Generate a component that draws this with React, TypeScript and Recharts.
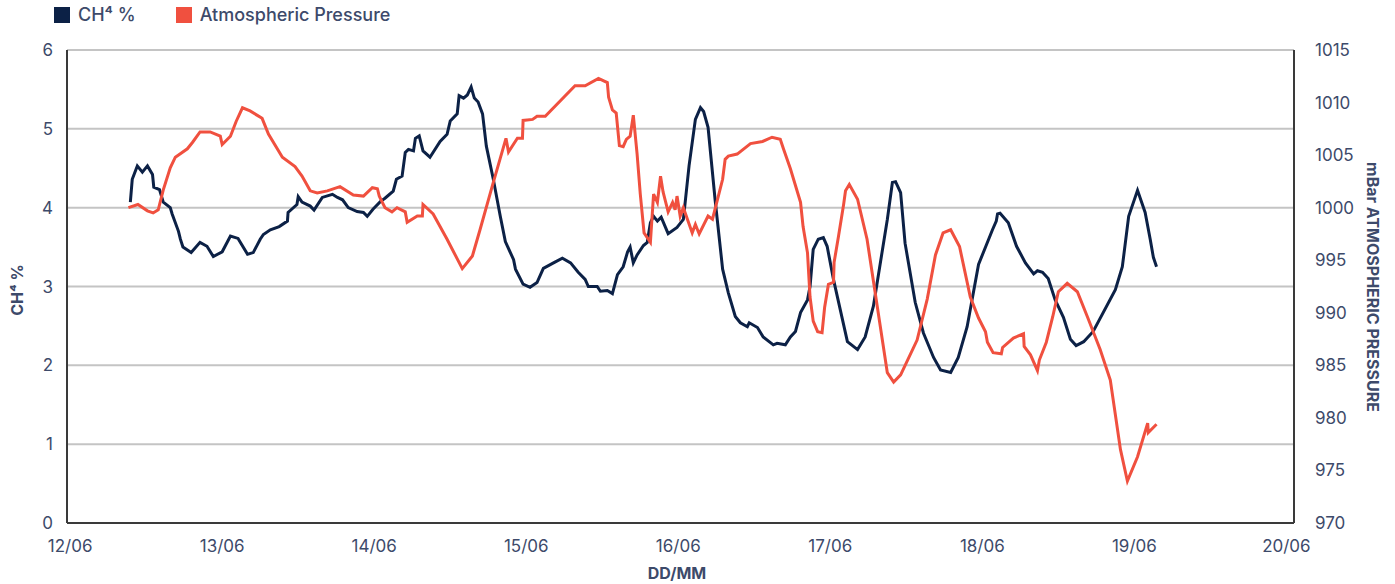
import { LineChart, Line, XAxis, YAxis, CartesianGrid } from "recharts";

const NAVY = "#0c2146";
const RED = "#f0503f";
const TEXT = "#3d4a6a";
const FONT = "Inter, 'Open Sans', sans-serif";

const dayLabels = ["12/06", "13/06", "14/06", "15/06", "16/06", "17/06", "18/06", "19/06", "20/06"];
const dayTicks = [0, 24, 48, 72, 96, 120, 144, 168, 192];
const ch4Ticks = [0, 1, 2, 3, 4, 5, 6];
const pressureTicks = [970, 975, 980, 985, 990, 995, 1000, 1005, 1010, 1015];

// hours since 12/06 00:00
const ch4Hours = [
  9.5, 9.8, 10.6, 11.4, 12.2, 13.0, 13.2, 14.1, 14.7, 15.8, 16.1, 17.1, 17.4, 17.8, 19.1, 20.5, 21.6, 22.6,
  24.0, 25.3, 26.5, 28.0, 28.9, 30.0, 30.5, 31.6, 33.0, 34.3, 34.4, 35.8, 36.0, 36.6, 37.9, 38.5, 39.8, 41.4,
  42.2, 43.0, 43.9, 45.3, 46.3, 46.9, 47.8, 49.0, 49.7, 51.0, 51.5, 52.4, 52.9, 53.4, 54.2, 54.5, 55.1, 55.7,
  56.8, 58.4, 59.5, 60.0, 61.1, 61.4, 62.1, 62.7, 63.3, 63.8, 64.4, 65.1, 65.7, 66.8, 67.9, 68.7, 70.0, 70.3,
  71.5, 72.6, 73.7, 74.7, 76.3, 77.7, 79.0, 80.2, 81.3, 81.8, 83.2, 83.7, 84.8, 85.6, 86.4, 87.3, 88.0, 88.4,
  88.9, 89.5, 90.5, 91.1, 91.6, 92.1, 92.7, 93.3, 94.4, 95.8, 96.3, 96.8, 97.7, 98.7, 99.5, 100.0, 100.7, 101.8,
  103.0, 103.9, 105.0, 105.8, 106.9, 107.2, 108.5, 109.4, 111.0, 111.6, 112.9, 113.7, 114.5, 115.3, 116.4, 116.8,
  117.3, 118.1, 118.9, 119.5, 120.5, 122.7, 124.3, 125.5, 126.8, 129.0, 129.8, 130.3, 131.1, 131.8, 133.4, 134.7,
  136.3, 137.4, 139.0, 140.2, 141.6, 143.4, 145.6, 146.2, 146.4, 146.8, 148.1, 149.4, 150.8, 152.1, 152.7, 153.5,
  154.4, 155.5, 156.8, 157.9, 158.8, 160.0, 161.5, 165.0, 166.1, 167.1, 168.5, 169.7, 170.5, 171.0, 171.5,
];
const ch4Values = [
  4.07, 4.36, 4.53, 4.45, 4.53, 4.42, 4.26, 4.23, 4.07, 4.0, 3.92, 3.7, 3.6, 3.5, 3.43, 3.56, 3.51, 3.38,
  3.44, 3.64, 3.61, 3.41, 3.43, 3.6, 3.66, 3.72, 3.76, 3.83, 3.94, 4.04, 4.14, 4.07, 4.02, 3.97, 4.13, 4.17,
  4.13, 4.1, 4.0, 3.95, 3.94, 3.89, 3.98, 4.08, 4.12, 4.21, 4.36, 4.4, 4.7, 4.74, 4.72, 4.88, 4.91, 4.72,
  4.64, 4.84, 4.93, 5.1, 5.19, 5.42, 5.39, 5.43, 5.53, 5.39, 5.34, 5.19, 4.78, 4.36, 3.89, 3.57, 3.34, 3.22,
  3.03, 2.99, 3.05, 3.23, 3.3, 3.36, 3.3, 3.18, 3.09, 3.0, 3.0, 2.94, 2.95, 2.91, 3.15, 3.25, 3.44, 3.5,
  3.3, 3.4, 3.52, 3.56, 3.81, 3.89, 3.83, 3.88, 3.67, 3.75, 3.8, 3.85, 4.53, 5.12, 5.27, 5.22, 5.02, 4.11,
  3.22, 2.92, 2.62, 2.54, 2.49, 2.54, 2.48, 2.36, 2.26, 2.28, 2.26, 2.36, 2.43, 2.67, 2.83, 3.0,
  3.47, 3.6, 3.62, 3.51, 3.09, 2.3, 2.2, 2.36, 2.75, 3.85, 4.32, 4.33, 4.19, 3.55, 2.8, 2.41,
  2.1, 1.94, 1.91, 2.1, 2.49, 3.28, 3.72, 3.83, 3.92, 3.93, 3.81, 3.51, 3.3, 3.16, 3.2, 3.18,
  3.1, 2.83, 2.61, 2.33, 2.25, 2.3, 2.43, 2.96, 3.25, 3.89, 4.22, 3.94, 3.6, 3.37, 3.25,
];

const pressureHours = [
  9.2, 10.7, 12.2, 13.1, 13.9, 14.7, 15.8, 16.6, 18.5, 19.3, 20.5, 22.1, 23.7, 24.0, 25.3, 26.2, 27.2, 28.4,
  30.3, 31.3, 33.5, 35.5, 36.6, 37.9, 39.0, 40.6, 42.6, 44.7, 46.3, 47.7, 48.5, 48.8, 49.7, 50.8, 51.6, 52.9,
  53.2, 54.8, 55.6, 55.7, 57.3, 59.5, 61.9, 63.5, 64.7, 66.8, 68.8, 69.2, 70.6, 71.4, 71.5, 73.0, 73.7, 75.0,
  79.7, 81.3, 83.4, 84.8, 85.0, 85.6, 86.2, 86.7, 87.3, 87.8, 88.4, 88.9, 89.5, 90.0, 90.6, 91.6, 92.1, 92.7,
  93.2, 93.6, 94.4, 95.1, 95.5, 95.8, 96.3, 96.8, 98.2, 98.7, 99.3, 100.7, 101.4, 103.0, 103.4, 103.9, 105.3,
  107.4, 109.3, 110.8, 112.1, 112.6, 113.7, 115.3, 115.7, 116.4, 116.8, 117.3, 118.0, 118.7, 119.1, 119.7,
  120.5, 120.6, 121.3, 122.1, 122.4, 123.0, 124.3, 125.8, 129.0, 130.0, 131.1, 133.7, 135.3, 136.6, 137.8,
  139.0, 140.4, 142.1, 143.4, 144.5, 144.8, 145.7, 147.0, 147.2, 148.9, 150.5, 150.6, 151.6, 152.7, 153.0,
  154.1, 155.1, 156.0, 157.4, 159.0, 160.6, 162.6, 164.2, 165.8, 166.9, 168.5, 170.1, 170.2, 171.5,
];
const pressureValues = [
  1000.0, 1000.3, 999.7, 999.5, 999.8, 1001.7, 1003.8, 1004.8, 1005.6, 1006.2, 1007.2, 1007.2, 1006.8, 1006.0,
  1006.8, 1008.2, 1009.5, 1009.2, 1008.5, 1007.0, 1004.8, 1003.9, 1003.0, 1001.6, 1001.4, 1001.6, 1002.0,
  1001.2, 1001.1, 1001.9, 1001.8, 1001.1, 1000.0, 999.6, 1000.0, 999.6, 998.6, 999.2, 999.2, 1000.3, 999.4,
  997.0, 994.2, 995.4, 997.9, 1002.4, 1006.6, 1005.3, 1006.6, 1006.6, 1008.3, 1008.4, 1008.7, 1008.7,
  1011.6, 1011.6, 1012.3, 1011.9, 1010.5, 1009.3, 1009.0, 1005.9, 1005.8, 1006.5, 1006.8, 1008.8, 1005.1,
  1001.3, 997.6, 996.7, 1001.3, 1000.5, 1003.0, 1001.5, 999.6, 1000.5, 999.8, 1001.1, 999.2, 1000.0, 997.6,
  998.4, 997.5, 999.2, 998.9, 1002.7, 1004.6, 1004.9, 1005.1, 1006.1, 1006.3, 1006.7, 1006.5, 1005.6,
  1003.7, 1000.5, 998.2, 995.7, 991.5, 989.2, 988.2, 988.1, 990.5, 992.7, 992.9, 994.8, 997.3, 1000.3,
  1001.6, 1002.2, 1000.8, 997.0, 984.3, 983.4, 984.1, 987.4, 991.3, 995.5, 997.6, 997.9, 996.3, 991.5,
  989.5, 988.2, 987.2, 986.2, 986.1, 986.7, 987.6, 988.0, 986.8, 986.0, 984.5, 985.5, 987.2, 989.6, 992.0,
  992.8, 992.0, 989.6, 986.5, 983.6, 977.0, 974.0, 976.3, 979.5, 978.6, 979.4,
];

const ch4Data = ch4Hours.map((t, i) => ({ t, ch4: ch4Values[i] }));
const pressureData = pressureHours.map((t, i) => ({ t, pressure: pressureValues[i] }));

const tickStyle = { fill: TEXT, fontSize: 17, fontFamily: FONT, fontWeight: 400 };

export default function App() {
  return (
    <div
      style={{
        position: "absolute",
        left: 0,
        top: 0,
        width: 1395,
        height: 584,
        background: "#fff",
        fontFamily: FONT,
        color: TEXT,
      }}
    >
      {/* legend */}
      <div style={{ position: "absolute", left: 54, top: 4, display: "flex", alignItems: "center", fontSize: 18, fontWeight: 500 }}>
        <div style={{ width: 16, height: 16, background: NAVY, marginRight: 8 }} />
        <span>CH⁴ %</span>
        <div style={{ width: 16, height: 16, background: RED, marginLeft: 40, marginRight: 8 }} />
        <span>Atmospheric Pressure</span>
      </div>

      <LineChart width={1395} height={584} margin={{ top: 50, right: 0, bottom: 0, left: 0 }}>
        <CartesianGrid yAxisId="left" vertical={false} stroke="#c4c4c4" strokeWidth={2} />
        <XAxis
          type="number"
          dataKey="t"
          domain={[-0.5, 193.2]}
          ticks={dayTicks}
          tickFormatter={(v: number) => dayLabels[dayTicks.indexOf(v)] ?? ""}
          tick={tickStyle}
          tickLine={false}
          tickMargin={11}
          height={61}
          stroke="#3a3a3a"
          strokeWidth={2}
        />
        <YAxis
          yAxisId="left"
          orientation="left"
          domain={[0, 6]}
          ticks={ch4Ticks}
          tick={tickStyle}
          tickLine={false}
          tickMargin={8}
          width={67}
          stroke="#3a3a3a"
          strokeWidth={2}
        />
        <YAxis
          yAxisId="right"
          orientation="right"
          domain={[970, 1015]}
          ticks={pressureTicks}
          tick={{ ...tickStyle, textAnchor: "start", dx: 7 }}
          tickLine={false}
          tickMargin={8}
          width={101}
          stroke="#3a3a3a"
          strokeWidth={2}
        />
        <Line
          yAxisId="left"
          data={ch4Data}
          dataKey="ch4"
          type="linear"
          stroke={NAVY}
          strokeWidth={3}
          dot={false}
          isAnimationActive={false}
        />
        <Line
          yAxisId="right"
          data={pressureData}
          dataKey="pressure"
          type="linear"
          stroke={RED}
          strokeWidth={3}
          dot={false}
          isAnimationActive={false}
        />
      </LineChart>

      {/* axis titles */}
      <div
        style={{
          position: "absolute",
          left: 17,
          top: 290,
          transform: "translate(-50%, -50%) rotate(-90deg)",
          whiteSpace: "nowrap",
          fontSize: 16,
          fontWeight: 700,
        }}
      >
        CH⁴ %
      </div>
      <div
        style={{
          position: "absolute",
          left: 1373,
          top: 287,
          transform: "translate(-50%, -50%) rotate(90deg)",
          whiteSpace: "nowrap",
          fontSize: 16,
          fontWeight: 700,
        }}
      >
        mBar ATMOSPHERIC PRESSURE
      </div>
      <div
        style={{
          position: "absolute",
          left: 677,
          top: 573,
          transform: "translate(-50%, -50%)",
          fontSize: 16,
          fontWeight: 700,
        }}
      >
        DD/MM
      </div>
    </div>
  );
}
